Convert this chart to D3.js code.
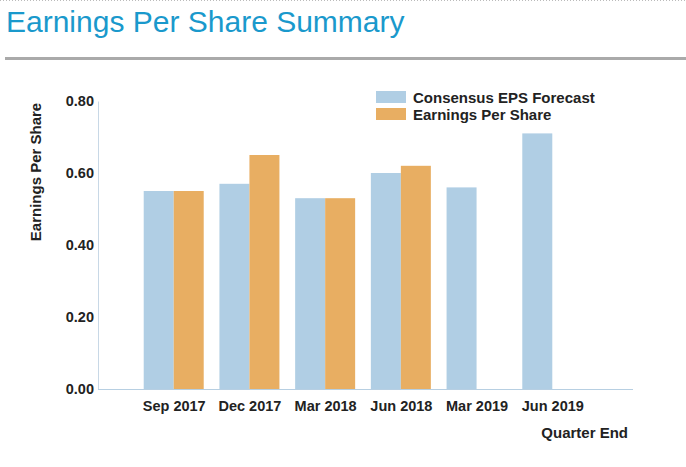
<!DOCTYPE html>
<html><head><meta charset="utf-8">
<script src="https://cdn.jsdelivr.net/npm/d3@7"></script>
<style>
body{margin:0;background:#fff;}
svg{display:block;}
</style></head>
<body>
<svg id="chart" width="686" height="467"></svg>
<script>
const categories = ["Sep 2017","Dec 2017","Mar 2018","Jun 2018","Mar 2019","Jun 2019"];
const consensus = [0.55, 0.57, 0.53, 0.60, 0.56, 0.71];
const eps = [0.55, 0.65, 0.53, 0.62, null, null];
const yTicks = [0, 0.2, 0.4, 0.6, 0.8];
const seriesNames = ["Consensus EPS Forecast", "Earnings Per Share"];
const colors = ["#b0cee4", "#e8ae62"];

const svg = d3.select("#chart");
const font = "'Liberation Sans', Arial, sans-serif";
const axisSize = 14.5;

// top dotted border
svg.append("line").attr("x1",0).attr("x2",686).attr("y1",0.5).attr("y2",0.5)
  .attr("stroke","#bbb").attr("stroke-dasharray","1,2");

svg.append("text").attr("x",6).attr("y",32)
  .attr("font-family",font).attr("font-size",30).attr("fill","#1a99cc")
  .text("Earnings Per Share Summary");

svg.append("rect").attr("x",5).attr("y",57).attr("width",681).attr("height",3).attr("fill","#aaaaaa");

const x0 = 98, x1 = 628;
const yBase = 389, yTop = 101;
const x = d3.scalePoint().domain(categories).range([x0, x1]).padding(1);
const y = d3.scaleLinear().domain([0, 0.8]).range([yBase, yTop]);
const bw = 30;

const g = svg.append("g");
categories.forEach((c,i)=>{
  const cx = x(c);
  if (consensus[i] != null)
    g.append("rect").attr("x",cx-bw).attr("width",bw).attr("y",y(consensus[i]))
      .attr("height",yBase-y(consensus[i])).attr("fill",colors[0]);
  if (eps[i] != null)
    g.append("rect").attr("x",cx).attr("width",bw).attr("y",y(eps[i]))
      .attr("height",yBase-y(eps[i])).attr("fill",colors[1]);
});

// y axis
const yAxis = svg.append("g").attr("transform",`translate(${x0},0)`)
  .call(d3.axisLeft(y).tickValues(yTicks).tickFormat(d3.format(".2f")).tickSize(0).tickPadding(4));
yAxis.select(".domain").attr("stroke","#c8d8e6");
yAxis.selectAll("text").attr("font-family",font).attr("font-size",axisSize).attr("font-weight","bold").attr("fill","#222");

// x axis
const xAxis = svg.append("g").attr("transform",`translate(0,${yBase})`)
  .call(d3.axisBottom(x).tickSize(0).tickPadding(12));
xAxis.select(".domain").attr("d",`M${x0},0.5H633`).attr("stroke","#b7cfe2");
xAxis.selectAll("text").attr("font-family",font).attr("font-size",axisSize).attr("font-weight","bold").attr("fill","#222");

svg.append("text").attr("transform","translate(41,172) rotate(-90)")
  .attr("text-anchor","middle").attr("font-family",font).attr("font-size",15)
  .attr("font-weight","bold").attr("fill","#222").text("Earnings Per Share");

svg.append("text").attr("x",628).attr("y",438).attr("text-anchor","end")
  .attr("font-family",font).attr("font-size",15).attr("font-weight","bold").attr("fill","#222")
  .text("Quarter End");

// legend
seriesNames.forEach((n,i)=>{
  const ly = 91 + i*17;
  svg.append("rect").attr("x",376).attr("y",ly).attr("width",30).attr("height",12).attr("fill",colors[i]);
  svg.append("text").attr("x",413).attr("y",ly+12).attr("font-family",font).attr("font-size",15)
    .attr("font-weight","bold").attr("fill","#222").text(n);
});
</script>
</body></html>
